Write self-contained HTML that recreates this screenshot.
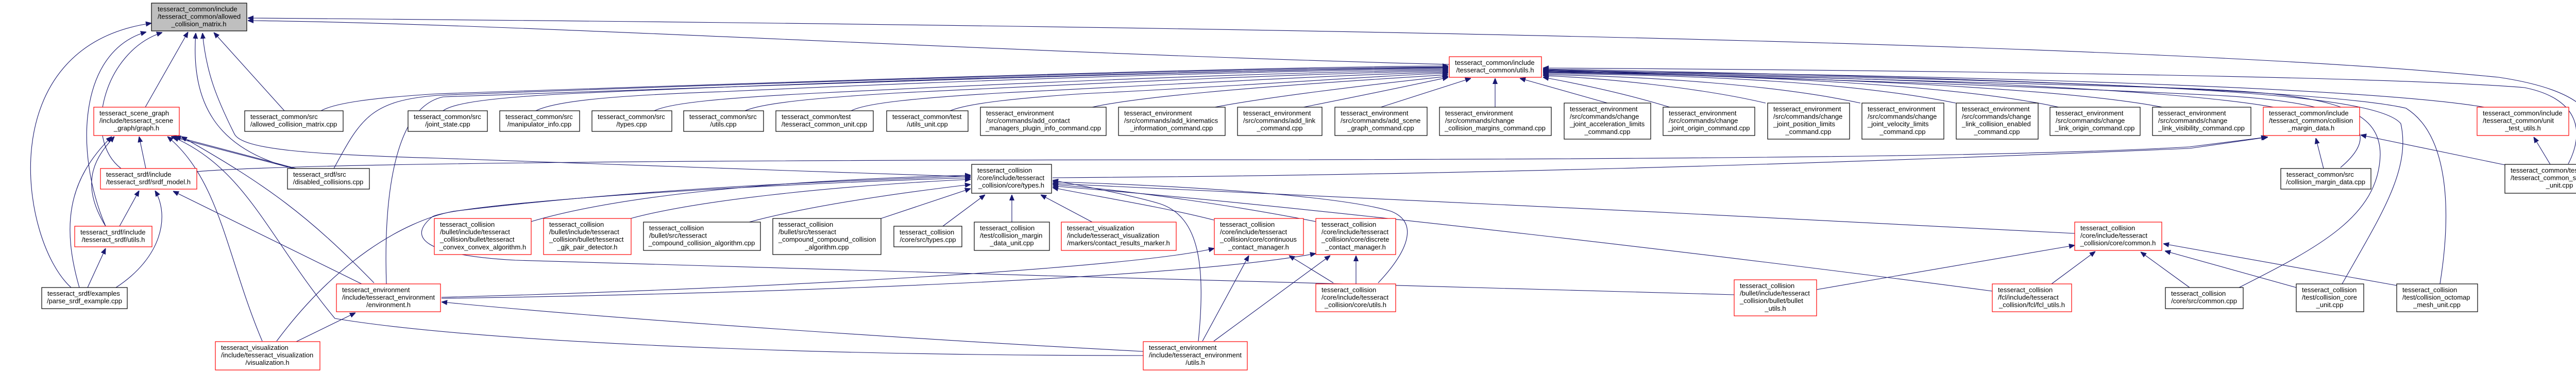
<!DOCTYPE html>
<html><head><meta charset="utf-8"><style>
html,body{margin:0;padding:0;background:#fff;}
svg{display:block;}
text{font-family:"Liberation Sans",sans-serif;font-size:13px;fill:#000;}
.e{fill:none;stroke:#191970;stroke-width:1.1;marker-end:url(#a);}
.b{fill:#fff;stroke:#000;stroke-width:1.2;}
.r{fill:#fff;stroke:#ff0000;stroke-width:1.2;}
.g{fill:#bfbfbf;stroke:#000;stroke-width:1.2;}
</style></head><body>
<svg width="5079" height="720" viewBox="0 0 5079 720" xmlns="http://www.w3.org/2000/svg">
<defs><marker id="a" viewBox="0 0 10 10" refX="10" refY="5" markerWidth="11" markerHeight="11" markerUnits="userSpaceOnUse" orient="auto"><path d="M0,1 L10,5 L0,9z" fill="#191970" stroke="#191970"/></marker></defs>

<!-- edges to root -->
<path class="e" d="M282,208 L365,62"/>
<path class="e" d="M235,327 C160,270 200,100 315,63"/>
<path class="e" d="M205,439 C145,300 150,100 284,62"/>
<path class="e" d="M138,558 C40,470 -20,90 294,45"/>
<path class="e" d="M552,215 L415,63"/>
<path class="e" d="M570,327 C420,290 370,200 380,64"/>
<path class="e" d="M1884,343 C1500,330 900,310 850,307 C600,300 470,290 455,260 C420,190 400,140 393,64"/>
<path class="e" d="M2813,125 C2000,105 1000,45 481,40"/>
<path class="e" d="M5010,319 C5060,250 5050,180 4850,150 C4300,95 3000,55 481,35"/>

<!-- graph.h -->
<path class="e" d="M283,327 L270,265"/>
<path class="e" d="M205,439 C150,350 190,300 222,265"/>
<path class="e" d="M154,558 C120,440 130,350 217,265"/>
<path class="e" d="M570,327 L332,265"/>
<path class="e" d="M575,327 L340,265"/>
<path class="e" d="M726,549 C600,420 520,360 352,265"/>
<path class="e" d="M509,662 C440,500 428,350 325,265"/>
<path class="e" d="M2219,690 C1500,690 900,660 650,618 C520,461 480,330 336,266"/>

<!-- srdf_model -->
<path class="e" d="M232,439 L270,370"/>
<path class="e" d="M225,558 C314,500 330,420 301,370"/>
<path class="e" d="M702,551 L336,371"/>
<path class="e" d="M382,333 C600,315 1500,310 2500,310 C3500,308 4000,300 4250,285 L4400,266"/>
<!-- srdf utils -->
<path class="e" d="M170,558 L205,482"/>
<!-- env.h -->
<path class="e" d="M575,663 L690,607"/>
<path class="e" d="M2219,682 C1800,660 1200,620 857,586"/>

<!-- utils.h left -->
<path class="e" d="M623,215 C650,200 720,190 850,182 C1500,160 2400,130 2811,128"/>
<path class="e" d="M648,327 C700,230 720,195 850,185 C1500,160 2400,132 2811,130"/>
<path class="e" d="M750,551 C745,400 760,210 860,188 C1500,165 2400,135 2811,131"/>
<path class="e" d="M860,215 C880,200 950,190 1100,182 C1800,150 2500,135 2811,132"/>
<path class="e" d="M1040,215 C1080,195 1200,185 1400,178 C2000,150 2500,137 2811,134"/>
<path class="e" d="M1270,215 C1300,200 1400,190 1600,180 C2100,155 2500,140 2811,136"/>
<path class="e" d="M1446,215 C1480,200 1580,190 1750,180 C2200,158 2550,142 2811,138"/>
<path class="e" d="M1652,215 C1680,200 1780,190 1950,180 C2350,160 2600,145 2811,140"/>
<path class="e" d="M1844,215 C1880,200 1980,190 2100,182 C2450,165 2650,148 2811,142"/>
<path class="e" d="M2120,208 C2200,190 2400,170 2811,145"/>
<path class="e" d="M2358,208 C2450,190 2650,165 2811,148"/>
<path class="e" d="M2530,208 C2620,190 2720,170 2811,150"/>
<path class="e" d="M2680,208 L2855,152"/>
<path class="e" d="M2902,208 L2902,152"/>
<path class="e" d="M3120,200 L2950,152"/>
<!-- utils.h right -->
<path class="e" d="M3241,208 C3150,180 3050,160 2995,150"/>
<path class="e" d="M3427,200 C3300,170 3100,150 2995,147"/>
<path class="e" d="M3611,200 C3450,165 3200,148 2995,145"/>
<path class="e" d="M3796,200 C3600,160 3300,145 2995,143"/>
<path class="e" d="M3996,208 C3800,165 3400,145 2995,141"/>
<path class="e" d="M4197,208 C4000,170 3500,148 2995,140"/>
<path class="e" d="M4413,208 C4200,170 3600,148 2995,139"/>
<path class="e" d="M4822,208 C4600,170 3800,145 2995,138"/>
<path class="e" d="M4543,325 C4620,260 4600,200 4300,185 C3800,160 3200,145 2995,137"/>
<path class="e" d="M4346,558 C4500,480 4617,420 4620,300 C4620,200 4500,180 4200,170 C3600,150 3200,140 2995,136"/>
<path class="e" d="M4546,551 C4620,420 4680,330 4660,240 C4620,190 4300,170 3800,155 C3300,142 3100,138 2995,135"/>
<path class="e" d="M4736,551 C4760,400 4750,260 4670,210 C4500,170 3600,145 2995,134"/>
<path class="e" d="M4985,318 C5020,250 5000,190 4900,170 C4600,145 3500,135 2995,132"/>

<!-- types.h -->
<path class="e" d="M1031,430 C1200,380 1500,350 1884,340"/>
<path class="e" d="M1224,424 C1350,390 1600,362 1884,348"/>
<path class="e" d="M1454,431 C1550,405 1700,380 1884,358"/>
<path class="e" d="M1710,424 L1884,366"/>
<path class="e" d="M1830,439 L1912,378"/>
<path class="e" d="M1964,431 L1964,378"/>
<path class="e" d="M2120,431 L2020,378"/>
<path class="e" d="M2356,427 C2250,400 2120,380 2043,364"/>
<path class="e" d="M2554,430 C2400,400 2200,370 2043,358"/>
<path class="e" d="M2675,549 C2740,480 2750,430 2700,410 C2600,380 2300,360 2043,353"/>
<path class="e" d="M2326,662 C2340,520 2330,420 2250,395 C2200,380 2100,360 2043,350"/>
<path class="e" d="M4027,453 C3400,420 2550,378 2043,356"/>
<path class="e" d="M3867,565 C3400,503 2550,401 2043,361"/>
<path class="e" d="M3366,572 C2800,552 1700,530 1000,505 C820,495 790,460 840,420 C900,395 1400,360 1884,345"/>
<path class="e" d="M537,662 C650,510 780,430 880,410 C1200,372 1500,355 1884,342"/>

<!-- margin_data.h -->
<path class="e" d="M2043,345 C2800,340 3500,320 4250,288 L4402,266"/>
<path class="e" d="M4510,327 L4495,268"/>
<path class="e" d="M4862,320 L4582,262"/>
<path class="e" d="M4950,319 L4918,266"/>

<!-- continuous / discrete -->
<path class="e" d="M857,577 C1500,560 2200,520 2357,482"/>
<path class="e" d="M857,579 C1500,570 2300,540 2554,492"/>
<path class="e" d="M2334,662 L2424,496"/>
<path class="e" d="M2356,662 L2582,496"/>
<path class="e" d="M2588,549 L2502,496"/>
<path class="e" d="M2632,551 L2632,496"/>

<!-- common.h -->
<path class="e" d="M3526,562 L4027,476"/>
<path class="e" d="M3982,551 L4067,488"/>
<path class="e" d="M4250,558 L4155,489"/>
<path class="e" d="M4457,558 L4202,487"/>
<path class="e" d="M4652,554 L4199,473"/>

<!-- nodes -->
<rect class="g" x="294" y="6" width="185" height="54"/>
<text x="306" y="22">tesseract_common/include</text><text x="306" y="36.6">/tesseract_common/allowed</text><text x="386" y="51.2" text-anchor="middle">_collision_matrix.h</text>

<rect class="r" x="182" y="208" width="166" height="55"/>
<text x="193" y="224">tesseract_scene_graph</text><text x="193" y="238.6">/include/tesseract_scene</text><text x="265" y="253.2" text-anchor="middle">_graph/graph.h</text>

<rect class="b" x="475" y="215" width="191" height="40"/>
<text x="486" y="231">tesseract_common/src</text><text x="570" y="245.6" text-anchor="middle">/allowed_collision_matrix.cpp</text>

<rect class="r" x="195" y="327" width="187" height="40"/>
<text x="206" y="343">tesseract_srdf/include</text><text x="288" y="357.6" text-anchor="middle">/tesseract_srdf/srdf_model.h</text>

<rect class="b" x="558" y="327" width="159" height="40"/>
<text x="569" y="343">tesseract_srdf/src</text><text x="637" y="357.6" text-anchor="middle">/disabled_collisions.cpp</text>

<rect class="r" x="145" y="439" width="150" height="40"/>
<text x="156" y="455">tesseract_srdf/include</text><text x="220" y="469.6" text-anchor="middle">/tesseract_srdf/utils.h</text>

<rect class="b" x="81" y="558" width="166" height="41"/>
<text x="92" y="574">tesseract_srdf/examples</text><text x="164" y="588.6" text-anchor="middle">/parse_srdf_example.cpp</text>

<rect class="r" x="653" y="551" width="202" height="54"/>
<text x="664" y="567">tesseract_environment</text><text x="664" y="581.6">/include/tesseract_environment</text><text x="754" y="596.2" text-anchor="middle">/environment.h</text>

<rect class="r" x="418" y="663" width="203" height="55"/>
<text x="429" y="679">tesseract_visualization</text><text x="429" y="693.6">/include/tesseract_visualization</text><text x="519" y="708.2" text-anchor="middle">/visualization.h</text>

<rect class="b" x="792" y="215" width="154" height="40"/>
<text x="803" y="231">tesseract_common/src</text><text x="869" y="245.6" text-anchor="middle">/joint_state.cpp</text>
<rect class="b" x="970" y="215" width="155" height="40"/>
<text x="981" y="231">tesseract_common/src</text><text x="1047" y="245.6" text-anchor="middle">/manipulator_info.cpp</text>
<rect class="b" x="1149" y="215" width="155" height="40"/>
<text x="1160" y="231">tesseract_common/src</text><text x="1226" y="245.6" text-anchor="middle">/types.cpp</text>
<rect class="b" x="1327" y="215" width="155" height="40"/>
<text x="1338" y="231">tesseract_common/src</text><text x="1404" y="245.6" text-anchor="middle">/utils.cpp</text>
<rect class="b" x="1506" y="215" width="189" height="40"/>
<text x="1517" y="231">tesseract_common/test</text><text x="1600" y="245.6" text-anchor="middle">/tesseract_common_unit.cpp</text>
<rect class="b" x="1721" y="215" width="158" height="40"/>
<text x="1732" y="231">tesseract_common/test</text><text x="1800" y="245.6" text-anchor="middle">/utils_unit.cpp</text>

<rect class="b" x="1903" y="208" width="244" height="55"/>
<text x="1914" y="224">tesseract_environment</text><text x="1914" y="238.6">/src/commands/add_contact</text><text x="2025" y="253.2" text-anchor="middle">_managers_plugin_info_command.cpp</text>
<rect class="b" x="2171" y="208" width="207" height="55"/>
<text x="2182" y="224">tesseract_environment</text><text x="2182" y="238.6">/src/commands/add_kinematics</text><text x="2274" y="253.2" text-anchor="middle">_information_command.cpp</text>
<rect class="b" x="2402" y="208" width="164" height="55"/>
<text x="2413" y="224">tesseract_environment</text><text x="2413" y="238.6">/src/commands/add_link</text><text x="2484" y="253.2" text-anchor="middle">_command.cpp</text>
<rect class="b" x="2591" y="208" width="179" height="55"/>
<text x="2602" y="224">tesseract_environment</text><text x="2602" y="238.6">/src/commands/add_scene</text><text x="2680" y="253.2" text-anchor="middle">_graph_command.cpp</text>
<rect class="b" x="2794" y="208" width="217" height="55"/>
<text x="2805" y="224">tesseract_environment</text><text x="2805" y="238.6">/src/commands/change</text><text x="2902" y="253.2" text-anchor="middle">_collision_margins_command.cpp</text>
<rect class="b" x="3036" y="200" width="168" height="70"/>
<text x="3047" y="216">tesseract_environment</text><text x="3047" y="230.6">/src/commands/change</text><text x="3047" y="245.2">_joint_acceleration_limits</text><text x="3120" y="259.8" text-anchor="middle">_command.cpp</text>
<rect class="b" x="3228" y="208" width="178" height="55"/>
<text x="3239" y="224">tesseract_environment</text><text x="3239" y="238.6">/src/commands/change</text><text x="3317" y="253.2" text-anchor="middle">_joint_origin_command.cpp</text>
<rect class="b" x="3431" y="200" width="159" height="70"/>
<text x="3442" y="216">tesseract_environment</text><text x="3442" y="230.6">/src/commands/change</text><text x="3442" y="245.2">_joint_position_limits</text><text x="3510" y="259.8" text-anchor="middle">_command.cpp</text>
<rect class="b" x="3614" y="200" width="159" height="70"/>
<text x="3625" y="216">tesseract_environment</text><text x="3625" y="230.6">/src/commands/change</text><text x="3625" y="245.2">_joint_velocity_limits</text><text x="3693" y="259.8" text-anchor="middle">_command.cpp</text>
<rect class="b" x="3797" y="200" width="159" height="70"/>
<text x="3808" y="216">tesseract_environment</text><text x="3808" y="230.6">/src/commands/change</text><text x="3808" y="245.2">_link_collision_enabled</text><text x="3876" y="259.8" text-anchor="middle">_command.cpp</text>
<rect class="b" x="3979" y="208" width="175" height="55"/>
<text x="3990" y="224">tesseract_environment</text><text x="3990" y="238.6">/src/commands/change</text><text x="4066" y="253.2" text-anchor="middle">_link_origin_command.cpp</text>
<rect class="b" x="4178" y="208" width="191" height="55"/>
<text x="4189" y="224">tesseract_environment</text><text x="4189" y="238.6">/src/commands/change</text><text x="4273" y="253.2" text-anchor="middle">_link_visibility_command.cpp</text>
<rect class="r" x="4393" y="208" width="187" height="55"/>
<text x="4404" y="224">tesseract_common/include</text><text x="4404" y="238.6">/tesseract_common/collision</text><text x="4486" y="253.2" text-anchor="middle">_margin_data.h</text>
<rect class="r" x="4808" y="208" width="178" height="55"/>
<text x="4819" y="224">tesseract_common/include</text><text x="4819" y="238.6">/tesseract_common/unit</text><text x="4897" y="253.2" text-anchor="middle">_test_utils.h</text>

<rect class="r" x="2813" y="110" width="179" height="40"/>
<text x="2824" y="126">tesseract_common/include</text><text x="2902" y="140.6" text-anchor="middle">/tesseract_common/utils.h</text>

<rect class="b" x="1886" y="319" width="155" height="56"/>
<text x="1897" y="335">tesseract_collision</text><text x="1897" y="349.6">/core/include/tesseract</text><text x="1963" y="364.2" text-anchor="middle">_collision/core/types.h</text>

<rect class="b" x="4427" y="327" width="175" height="40"/>
<text x="4438" y="343">tesseract_common/src</text><text x="4514" y="357.6" text-anchor="middle">/collision_margin_data.cpp</text>
<rect class="b" x="4862" y="319" width="212" height="56"/>
<text x="4873" y="335">tesseract_common/test</text><text x="4873" y="349.6">/tesseract_common_serialization</text><text x="4968" y="364.2" text-anchor="middle">_unit.cpp</text>

<rect class="r" x="843" y="424" width="188" height="70"/>
<text x="854" y="440">tesseract_collision</text><text x="854" y="454.6">/bullet/include/tesseract</text><text x="854" y="469.2">_collision/bullet/tesseract</text><text x="937" y="483.8" text-anchor="middle">_convex_convex_algorithm.h</text>
<rect class="r" x="1055" y="424" width="170" height="70"/>
<text x="1066" y="440">tesseract_collision</text><text x="1066" y="454.6">/bullet/include/tesseract</text><text x="1066" y="469.2">_collision/bullet/tesseract</text><text x="1140" y="483.8" text-anchor="middle">_gjk_pair_detector.h</text>
<rect class="b" x="1249" y="431" width="227" height="55"/>
<text x="1260" y="447">tesseract_collision</text><text x="1260" y="461.6">/bullet/src/tesseract</text><text x="1362" y="476.2" text-anchor="middle">_compound_collision_algorithm.cpp</text>
<rect class="b" x="1500" y="424" width="210" height="70"/>
<text x="1511" y="440">tesseract_collision</text><text x="1511" y="454.6">/bullet/src/tesseract</text><text x="1511" y="469.2">_compound_compound_collision</text><text x="1605" y="483.8" text-anchor="middle">_algorithm.cpp</text>
<rect class="b" x="1735" y="439" width="132" height="40"/>
<text x="1746" y="455">tesseract_collision</text><text x="1801" y="469.6" text-anchor="middle">/core/src/types.cpp</text>
<rect class="b" x="1891" y="431" width="146" height="55"/>
<text x="1902" y="447">tesseract_collision</text><text x="1902" y="461.6">/test/collision_margin</text><text x="1964" y="476.2" text-anchor="middle">_data_unit.cpp</text>
<rect class="r" x="2060" y="431" width="223" height="55"/>
<text x="2071" y="447">tesseract_visualization</text><text x="2071" y="461.6">/include/tesseract_visualization</text><text x="2171" y="476.2" text-anchor="middle">/markers/contact_results_marker.h</text>
<rect class="r" x="2357" y="424" width="173" height="70"/>
<text x="2368" y="440">tesseract_collision</text><text x="2368" y="454.6">/core/include/tesseract</text><text x="2368" y="469.2">_collision/core/continuous</text><text x="2443" y="483.8" text-anchor="middle">_contact_manager.h</text>
<rect class="r" x="2554" y="424" width="155" height="70"/>
<text x="2565" y="440">tesseract_collision</text><text x="2565" y="454.6">/core/include/tesseract</text><text x="2565" y="469.2">_collision/core/discrete</text><text x="2631" y="483.8" text-anchor="middle">_contact_manager.h</text>
<rect class="r" x="2554" y="551" width="155" height="54"/>
<text x="2565" y="567">tesseract_collision</text><text x="2565" y="581.6">/core/include/tesseract</text><text x="2631" y="596.2" text-anchor="middle">_collision/core/utils.h</text>
<rect class="r" x="2219" y="663" width="202" height="55"/>
<text x="2230" y="679">tesseract_environment</text><text x="2230" y="693.6">/include/tesseract_environment</text><text x="2320" y="708.2" text-anchor="middle">/utils.h</text>
<rect class="r" x="3366" y="543" width="160" height="70"/>
<text x="3377" y="559">tesseract_collision</text><text x="3377" y="573.6">/bullet/include/tesseract</text><text x="3377" y="588.2">_collision/bullet/bullet</text><text x="3446" y="602.8" text-anchor="middle">_utils.h</text>
<rect class="r" x="4027" y="431" width="169" height="55"/>
<text x="4038" y="447">tesseract_collision</text><text x="4038" y="461.6">/core/include/tesseract</text><text x="4111" y="476.2" text-anchor="middle">_collision/core/common.h</text>
<rect class="r" x="3867" y="551" width="154" height="54"/>
<text x="3878" y="567">tesseract_collision</text><text x="3878" y="581.6">/fcl/include/tesseract</text><text x="3944" y="596.2" text-anchor="middle">_collision/fcl/fcl_utils.h</text>
<rect class="b" x="4203" y="558" width="151" height="41"/>
<text x="4214" y="574">tesseract_collision</text><text x="4278" y="588.6" text-anchor="middle">/core/src/common.cpp</text>
<rect class="b" x="4457" y="551" width="131" height="54"/>
<text x="4468" y="567">tesseract_collision</text><text x="4468" y="581.6">/test/collision_core</text><text x="4522" y="596.2" text-anchor="middle">_unit.cpp</text>
<rect class="b" x="4652" y="551" width="157" height="54"/>
<text x="4663" y="567">tesseract_collision</text><text x="4663" y="581.6">/test/collision_octomap</text><text x="4730" y="596.2" text-anchor="middle">_mesh_unit.cpp</text>
</svg>
</body></html>
